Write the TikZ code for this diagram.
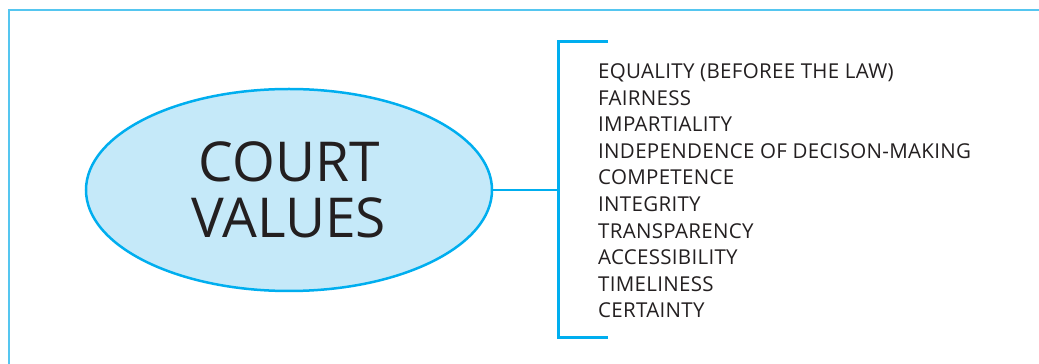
\documentclass[tikz,border=0pt]{standalone}
\usepackage{fontspec}
\setmainfont{Open Sans}
\newfontfamily\itemfont[LetterSpace=1.5]{Open Sans}
\usetikzlibrary{shapes.geometric}
\definecolor{cyanline}{HTML}{00AEEF}
\definecolor{framecol}{HTML}{55C6F0}
\definecolor{ellfill}{HTML}{C5E9F9}
\definecolor{txt}{HTML}{231F20}
\tikzset{
  x=1pt,y=1pt,
  framestyle/.style={draw=framecol,line width=2pt},
  bracketstyle/.style={draw=cyanline,line width=3pt},
  mainell/.style={ellipse,draw=cyanline,line width=2.5pt,fill=ellfill,
     minimum width=406pt,minimum height=202pt,inner sep=0pt,text=txt,
     font=\fontsize{55}{56}\selectfont,align=center},
  item/.style={anchor=base west,inner sep=0pt,text=txt,font=\itemfont\fontsize{20.5}{24}\selectfont}
}
\begin{document}
\begin{tikzpicture}
\useasboundingbox (0,0) rectangle (1039,364);
% frame
\coordinate (f1) at (9,0);
\coordinate (f2) at (9,354);
\coordinate (f3) at (1039,354);
\draw[framestyle] (f1) -- (f2) -- (f3);
% ellipse
\node[mainell] (cv) at (289,174) {COURT\\VALUES};
% bracket
\coordinate (bt) at (608,322);
\coordinate (btc) at (558,322);
\coordinate (bbc) at (558,26);
\coordinate (bb) at (608,26);
\coordinate (bm) at (558,174);
\draw[bracketstyle] (bt) -- (btc) -- (bbc) -- (bb);
\draw[draw=cyanline,line width=2.5pt] (cv.east) -- (bm);
% items
\foreach \t [count=\i from 0] in {EQUALITY (BEFOREE THE LAW),FAIRNESS,IMPARTIALITY,INDEPENDENCE OF DECISON-MAKING,COMPETENCE,INTEGRITY,TRANSPARENCY,ACCESSIBILITY,TIMELINESS,CERTAINTY}{
  \node[item] (it\i) at (598,{285.5-\i*26.6}) {\t};
}
\end{tikzpicture}
\end{document}
